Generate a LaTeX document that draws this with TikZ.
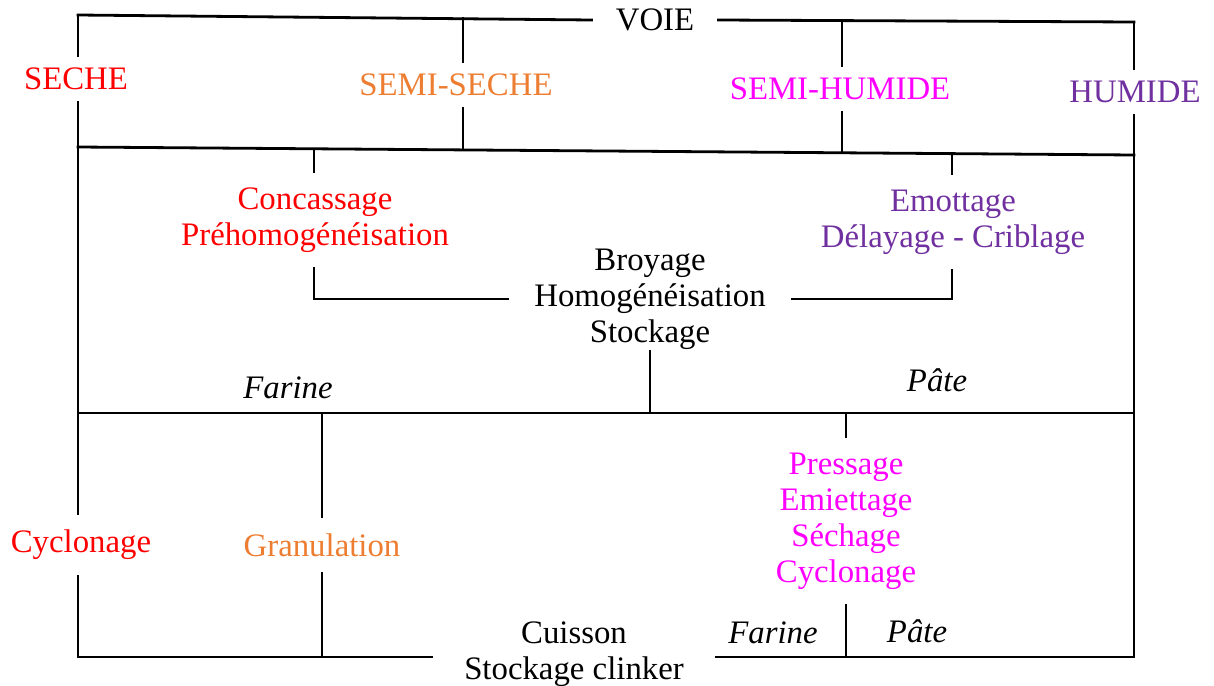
\documentclass[tikz,border=0pt]{standalone}
\usepackage{fontspec}
\setmainfont{Liberation Serif}
\usepackage{tikz}

\definecolor{secheRed}{HTML}{FF0000}
\definecolor{semisecheOrange}{HTML}{ED7D31}
\definecolor{semihumMagenta}{HTML}{FF00FF}
\definecolor{humidePurple}{HTML}{7030A0}

\begin{document}
\begin{tikzpicture}[x=0.5pt, y=-0.5pt,
    every node/.style={font=\fontsize{16.4}{18}\selectfont, align=center},
    head/.style={inner ysep=6pt},
    proc/.style={inner ysep=8pt},
    flux/.style={font=\fontsize{16.4}{18}\selectfont\itshape},
    link/.style={line width=1.4pt, line cap=rect, black}]
    \useasboundingbox (0,0) rectangle (1214,685);

    % Frame corners
    \coordinate (tl) at (78,15);
    \coordinate (tr) at (1134,22);
    \coordinate (ml) at (78,147);
    \coordinate (mr) at (1134,155);
    \coordinate (ll) at (78,413);
    \coordinate (lr) at (1134,413);
    \coordinate (bl) at (78,657);
    \coordinate (br) at (1134,657);

    % Top line with VOIE
    \node[inner xsep=12pt] (voie) at (655,20) {VOIE};
    \draw[link] (tl) -- (voie.west);
    \draw[link] (voie.east) -- (tr);

    % The four ways
    \node[head, secheRed] (seche) at (76,79) {SECHE};
    \node[head, semisecheOrange] (semiseche) at (456,85) {SEMI-SECHE};
    \node[head, semihumMagenta] (semihumide) at (840,89) {SEMI-HUMIDE};
    \node[head, humidePurple] (humide) at (1135,92) {HUMIDE};

    \coordinate (t1) at (463,18);
    \coordinate (t2) at (842,20);
    \coordinate (m1) at (463,150);
    \coordinate (m2) at (842,152);

    \draw[link] (tl) -- (tl |- seche.north);
    \draw[link] (tl |- seche.south) -- (ml);
    \draw[link] (t1) -- (t1 |- semiseche.north);
    \draw[link] (t1 |- semiseche.south) -- (m1);
    \draw[link] (t2) -- (t2 |- semihumide.north);
    \draw[link] (t2 |- semihumide.south) -- (m2);
    \draw[link] (tr) -- (tr |- humide.north);
    \draw[link] (tr |- humide.south) -- (mr);

    % Second line
    \draw[link] (ml) -- (mr);

    % Preparation of the raw material
    \coordinate (m3) at (314,149);
    \coordinate (m4) at (952,154);
    \node[proc, secheRed] (conc) at (315,220) {Concassage\\Préhomogénéisation};
    \node[proc, humidePurple] (emot) at (953,222) {Emottage\\Délayage - Criblage};
    \node[inner xsep=13pt, inner ysep=1pt] (broy) at (650,299) {Broyage\\Homogénéisation\\Stockage};

    \draw[link] (m3) -- (m3 |- conc.north);
    \draw[link] (m3 |- conc.south) |- (broy.west);
    \draw[link] (m4) -- (m4 |- emot.north);
    \draw[link] (m4 |- emot.south) |- (broy.east);
    \draw[link] (broy.south) -- (broy.south |- ll);

    \node[flux] (farineA) at (288,388) {Farine};
    \node[flux] (pateA) at (937,380) {Pâte};

    % Sides and third line
    \draw[link] (ml) -- (ll);
    \draw[link] (mr) -- (lr);
    \draw[link] (ll) -- (lr);

    % Cooking
    \node[proc, secheRed] (cyclA) at (81,545) {Cyclonage};
    \node[proc, semisecheOrange] (granul) at (322,545) {Granulation};
    \node[proc, semihumMagenta] (press) at (846,521) {Pressage\\Emiettage\\Séchage\\Cyclonage};
    \node[inner xsep=16pt] (cuisson) at (574,654) {Cuisson\\Stockage clinker};

    \coordinate (l2) at (322,413);
    \coordinate (l3) at (846,413);
    \coordinate (b2) at (322,657);
    \coordinate (b3) at (846,657);

    \draw[link] (ll) -- (ll |- cyclA.north);
    \draw[link] (ll |- cyclA.south) -- (bl);
    \draw[link] (l2) -- (l2 |- granul.north);
    \draw[link] (l2 |- granul.south) -- (b2);
    \draw[link] (l3) -- (l3 |- press.north);
    \draw[link] (l3 |- press.south) -- (b3);
    \draw[link] (lr) -- (br);

    % Bottom line
    \draw[link] (bl) -- (bl -| cuisson.west);
    \draw[link] (br -| cuisson.east) -- (br);

    \node[flux] (farineB) at (773,633) {Farine};
    \node[flux] (pateB) at (917,631) {Pâte};
\end{tikzpicture}
\end{document}
